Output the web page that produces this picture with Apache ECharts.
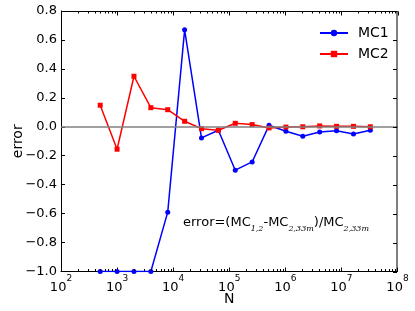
<!DOCTYPE html>
<html>
<head>
<meta charset="utf-8">
<script src="https://cdn.jsdelivr.net/npm/echarts@6/dist/echarts.min.js"></script>
<style>html,body{margin:0;padding:0;background:#fff;overflow:hidden;}#c{width:415px;height:311px;}</style>
</head>
<body>
<div id="c"></div>
<script>
const N = [500, 1000, 2000, 4000, 8000, 16000, 32000, 64000, 128000, 256000, 512000, 1024000, 2048000, 4096000, 8192000, 16384000, 32768000];
const MC1 = [-1.0, -1.0, -1.0, -1.0, -0.59, 0.67, -0.077, -0.024, -0.30, -0.243, 0.010, -0.031, -0.066, -0.036, -0.027, -0.05, -0.024];
const MC2 = [0.149, -0.155, 0.349, 0.132, 0.118, 0.038, -0.013, -0.024, 0.024, 0.015, -0.008, -0.002, 0.0, 0.006, 0.003, 0.003, 0.0];
const xMajor = [100, 1e3, 1e4, 1e5, 1e6, 1e7, 1e8];
const yTicks = [-1.0, -0.8, -0.6, -0.4, -0.2, 0.0, 0.2, 0.4, 0.6, 0.8];

const xMinor = [];
for (let e = 2; e < 8; e++) for (let k = 2; k <= 9; k++) xMinor.push(k * Math.pow(10, e));

const X_MIN = xMajor[0], X_MAX = xMajor[xMajor.length - 1];
const Y_MIN = yTicks[0], Y_MAX = yTicks[yTicks.length - 1];
const FONT = 'DejaVu Sans';
const W = 415, H = 311;
const G = {left: 61, right: 17.5, top: 11, bottom: 39.5};
const chart = echarts.init(document.getElementById('c'), null, {renderer: 'canvas'});

const annotation = {
  type: 'text', left: 183, top: 216, z: 50,
  style: {
    text: '{a|error=(MC}{s|1,2}{a|-MC}{s|2,33m}{a|)/MC}{s|2,33m}',
    rich: {
      a: {fontFamily: FONT, fontSize: 13, fill: '#000', lineHeight: 16},
      s: {fontFamily: 'DejaVu Serif', fontStyle: 'italic', fontSize: 8, fill: '#000', lineHeight: 9, verticalAlign: 'bottom', padding: [0, 0, -2, 0]}
    }
  }
};

// frame edges (top / right) from the grid box
const gx0 = G.left, gx1 = W - G.right, gy0 = G.top, gy1 = H - G.bottom;
function lineEl(x1, y1, x2, y2) {
  return {type: 'line', z: 100, silent: true,
    shape: {x1: x1, y1: y1, x2: x2, y2: y2}, style: {stroke: '#000', lineWidth: 1}};
}
const frameEls = [
  lineEl(gx0, gy0 + 0.5, gx1, gy0 + 0.5),
  lineEl(gx1 - 0.5, gy0, gx1 - 0.5, gy1)
];

chart.setOption({
  animation: false,
  backgroundColor: '#fff',
  grid: {left: G.left, right: G.right, top: G.top, bottom: G.bottom, containLabel: false, outerBoundsMode: 'none'},
  xAxis: {
    type: 'log', logBase: 10, min: X_MIN, max: X_MAX,
    axisLine: {show: true, onZero: false, lineStyle: {color: '#000', width: 1}},
    splitLine: {show: false}, minorTick: {show: false},
    axisTick: {show: true, inside: true, length: 4, lineStyle: {color: '#000'}, customValues: xMajor},
    axisLabel: {
      show: true, margin: 3, customValues: xMajor,
      formatter: function (v) { return '{b|10}{s|' + Math.round(Math.log10(v)) + '}'; },
      rich: {
        b: {fontFamily: FONT, fontSize: 13, color: '#000', lineHeight: 20, verticalAlign: 'bottom'},
        s: {fontFamily: FONT, fontSize: 9, color: '#000', lineHeight: 11, verticalAlign: 'top'}
      }
    },
    name: 'N', nameLocation: 'middle', nameGap: 21, nameMoveOverlap: false,
    nameTextStyle: {fontFamily: FONT, fontSize: 14, color: '#000'}
  },
  yAxis: {
    type: 'value', min: Y_MIN, max: Y_MAX, interval: 0.2,
    axisLine: {show: true, onZero: false, lineStyle: {color: '#000', width: 1}},
    splitLine: {show: false},
    axisTick: {show: true, inside: true, length: 4, lineStyle: {color: '#000'}},
    axisLabel: {show: true, margin: 4, fontFamily: FONT, fontSize: 13, color: '#000',
      formatter: function (v) { return v.toFixed(1).replace('-', '\u2212'); }},
    name: 'error', nameLocation: 'middle', nameGap: 36, nameMoveOverlap: false,
    nameTextStyle: {fontFamily: FONT, fontSize: 14, color: '#000'}
  },
  legend: {
    orient: 'vertical', left: 314, top: 21, itemWidth: 28, itemHeight: 8, itemGap: 7,
    textStyle: {fontFamily: FONT, fontSize: 14, color: '#000', padding: [0, 0, 0, 5]},
    data: ['MC1', 'MC2']
  },
  series: [
    {
      type: 'line', name: 'zero', data: [], silent: true, z: 1,
      markLine: {silent: true, symbol: 'none', label: {show: false},
        lineStyle: {color: '#808080', width: 1.5, type: 'solid'},
        data: [{yAxis: 0}]}
    },
    {
      name: 'MC1', type: 'line', z: 3,
      data: N.map((n, i) => [n, MC1[i]]),
      color: '#0000ff',
      lineStyle: {color: '#0000ff', width: 1.5},
      itemStyle: {color: '#0000ff'},
      symbol: 'circle', symbolSize: 5, showAllSymbol: true
    },
    {
      name: 'MC2', type: 'line', z: 4,
      data: N.map((n, i) => [n, MC2[i]]),
      color: '#ff0000',
      lineStyle: {color: '#ff0000', width: 1.5},
      itemStyle: {color: '#ff0000'},
      symbol: 'rect', symbolSize: 5, showAllSymbol: true
    }
  ],
  graphic: [annotation].concat(frameEls)
});

// top / right / minor ticks placed through the chart's own axis scales
function toPx(x, y) {
  const finders = [{gridIndex: 0}, {seriesIndex: 1}, {xAxisIndex: 0, yAxisIndex: 0}];
  for (const f of finders) {
    try {
      const p = chart.convertToPixel(f, [x, y]);
      if (p && isFinite(p[0]) && isFinite(p[1])) return p;
    } catch (e) {}
  }
  try {
    const m = chart.getModel();
    const xa = m.getComponent('xAxis', 0).axis, ya = m.getComponent('yAxis', 0).axis;
    return [xa.toGlobalCoord(xa.dataToCoord(x)), ya.toGlobalCoord(ya.dataToCoord(y))];
  } catch (e) {}
  return null;
}
try {
  const els = [annotation].concat(frameEls);
  const yT = gy0 + 0.5, yB = gy1 - 0.5, xR = gx1 - 0.5;
  xMajor.forEach(v => { const p = toPx(v, Y_MAX); if (p) { const x = Math.round(p[0]) + 0.5; els.push(lineEl(x, yT, x, yT + 4)); } });
  xMinor.forEach(v => { const p = toPx(v, Y_MAX); if (p) { const x = Math.round(p[0]) + 0.5; els.push(lineEl(x, yT, x, yT + 2)); els.push(lineEl(x, yB, x, yB - 2)); } });
  yTicks.forEach(v => { const p = toPx(X_MAX, v); if (p) { const y = Math.round(p[1]) + 0.5; els.push(lineEl(xR, y, xR - 4, y)); } });
  chart.setOption({graphic: els}, {replaceMerge: ['graphic']});
} catch (e) {}
</script>
</body>
</html>
